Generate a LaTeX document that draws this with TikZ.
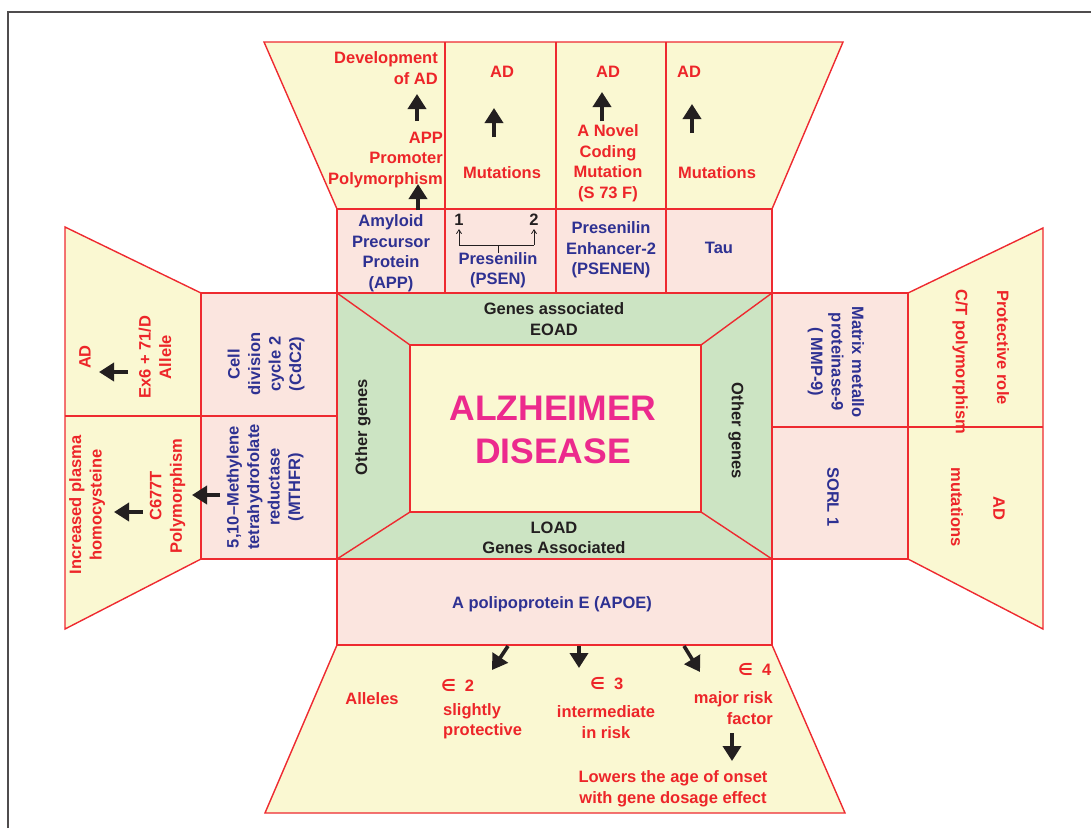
\documentclass[tikz,border=0pt]{standalone}
\usepackage{fontspec}
\setmainfont{Liberation Sans}
\newfontfamily\symfont{DejaVu Sans}
\usetikzlibrary{arrows.meta}
\definecolor{pinkfill}{HTML}{FBE5DF}
\definecolor{yelfill}{HTML}{FAF8D2}
\definecolor{grnfill}{HTML}{CCE4C3}
\definecolor{redline}{HTML}{EE2A30}
\definecolor{redtext}{HTML}{ED2529}
\definecolor{bluetext}{HTML}{2E3192}
\definecolor{magtext}{HTML}{EC2A8D}
\definecolor{darktext}{HTML}{231F20}
\tikzset{
  yel/.style={fill=yelfill,draw=redline,line width=1.4pt,line join=miter},
  pnk/.style={fill=pinkfill,draw=redline,line width=1.4pt},
  grn/.style={fill=grnfill,draw=redline,line width=1.4pt},
  rl/.style={draw=redline,line width=1.4pt},
  txt/.style={inner sep=0pt,font=\fontsize{16.5}{20.5}\selectfont\bfseries},
  rtxt/.style={txt,text=redtext},
  btxt/.style={txt,text=bluetext},
  dtxt/.style={txt,text=darktext},
  bigarrow/.style={draw=darktext,line width=3.6pt,-{Triangle[width=18pt,length=15pt]}},
  thinarrow/.style={draw=darktext,line width=0.8pt,-{Straight Barb[length=4pt,width=5pt]}},
}
\newcommand{\epsym}{{\symfont ∈}\hspace{9pt}}
\begin{document}
\begin{tikzpicture}[x=1pt,y=-1pt]
\useasboundingbox (0,0) rectangle (1091,828);
% frame
\draw[line width=1.6pt,draw=darktext!80] (8,828) -- (8,12) -- (1091,12);

% top yellow trapezoid
\path[yel] (264,42) -- (843,42) -- (772,209) -- (337,209) -- cycle;
% left yellow trapezoid
\path[yel] (65,227) -- (201,293) -- (201,559) -- (65,629) -- cycle;
% right yellow trapezoid
\path[yel] (1043,228) -- (908,293) -- (908,559) -- (1043,629) -- cycle;
% bottom yellow trapezoid
\path[yel] (337,645) -- (772,645) -- (845,813) -- (265,813) -- cycle;

% pink boxes
\path[pnk] (337,209) rectangle (772,293);
\path[pnk] (201,293) rectangle (337,559);
\path[pnk] (772,293) rectangle (908,559);
\path[pnk] (337,559) rectangle (772,645);

% dividers
\draw[rl] (445,42) -- (445,293);
\draw[rl] (556,42) -- (556,293);
\draw[rl] (666,42) -- (666,293);
\draw[rl] (65,416) -- (337,416);
\draw[rl] (772,427) -- (1043,427);

% centre
\path[grn] (337,293) rectangle (772,559);
\draw[rl] (337,293) -- (410,345);
\draw[rl] (772,293) -- (701,345);
\draw[rl] (337,559) -- (410,512);
\draw[rl] (772,559) -- (701,512);
\path[yel] (410,345) rectangle (701,512);

% centre texts
\node[dtxt,align=center] (eoad) at (554,319) {Genes associated\\EOAD};
\node[dtxt,align=center] (load) at (554,538) {LOAD\\Genes Associated};
\node[dtxt,rotate=90] (othl) at (363,427) {Other genes};
\node[dtxt,rotate=-90] (othr) at (736,431) {Other genes};
\node[txt,text=magtext,align=center,font=\fontsize{35.5}{43}\selectfont\bfseries] (alz) at (553,430) {ALZHEIMER\\DISEASE};

% top row: pink
\node[btxt,align=center] (app) at (391,253) {Amyloid\\Precursor\\Protein\\(APP)};
\node[dtxt] (one) at (459,220) {1};
\node[dtxt] (two) at (534,220) {2};
\node[btxt,align=center] (psen) at (498,270) {Presenilin\\(PSEN)};
\coordinate (brl) at (459,245);
\coordinate (brr) at (534,245);
\coordinate (brm) at (498,245);
\coordinate (brs) at (498,253);
\draw[darktext,line width=0.8pt] (brl) -- (brr);
\draw[darktext,line width=0.8pt] (brm) -- (brs);
\draw[thinarrow] (brl) -- (one.south |- 0,229);
\draw[thinarrow] (brr) -- (two.south |- 0,229);
\node[btxt,align=center] (psenen) at (611,250) {Presenilin\\Enhancer-2\\(PSENEN)};
\node[btxt] (tau) at (719,248) {Tau};

% top row: yellow
\node[rtxt,align=right,anchor=east] (devad) at (438,68) {Development\\of AD};
\node[rtxt,align=right,anchor=east] (apppp) at (443,160) {APP\\Promoter\\Polymorphism};
\coordinate (a1s) at (417,121); \coordinate (a1e) at (417,94);
\draw[bigarrow] (a1s) -- (a1e);
\coordinate (a2s) at (418,210); \coordinate (a2e) at (418,184);
\draw[bigarrow] (a2s) -- (a2e);

\node[rtxt] (ad2) at (502,72) {AD};
\node[rtxt] (mut2) at (502,173) {Mutations};
\coordinate (a3s) at (494,137); \coordinate (a3e) at (494,108);
\draw[bigarrow] (a3s) -- (a3e);

\node[rtxt] (ad3) at (608,72) {AD};
\node[rtxt,align=center] (novel) at (608,163) {A Novel\\Coding\\Mutation\\(S 73 F)};
\coordinate (a4s) at (602,121); \coordinate (a4e) at (602,92);
\draw[bigarrow] (a4s) -- (a4e);

\node[rtxt] (ad4) at (689,72) {AD};
\node[rtxt] (mut4) at (717,173) {Mutations};
\coordinate (a5s) at (692,133); \coordinate (a5e) at (692,104);
\draw[bigarrow] (a5s) -- (a5e);

% left side
\node[btxt,rotate=90,align=center] (cdc) at (266,364) {Cell\\division\\cycle 2\\(CdC2)};
\node[btxt,rotate=90,align=center] (mthfr) at (265,487) {5,10--Methylene\\tetrahydrofolate\\reductase\\(MTHFR)};
\node[rtxt,rotate=90] (adl) at (85,357) {AD};
\node[rtxt,rotate=90,align=center] (ex6) at (155,357) {Ex6 + 71/D\\Allele};
\node[rtxt,rotate=90,align=center] (incr) at (87,505) {Increased plasma\\homocysteine};
\node[rtxt,rotate=90,align=center] (c677) at (167.5,496) {C677T\\Polymorphism};
\coordinate (a6s) at (128,372); \coordinate (a6e) at (99,372);
\draw[bigarrow] (a6s) -- (a6e);
\coordinate (a7s) at (143,512); \coordinate (a7e) at (114,512);
\draw[bigarrow] (a7s) -- (a7e);
\coordinate (a8s) at (220,495); \coordinate (a8e) at (192,495);
\draw[bigarrow] (a8s) -- (a8e);

% right side
\node[btxt,rotate=-90,align=center] (mmp) at (836,362) {Matrix metallo\\proteinase-9\\( MMP-9)};
\node[btxt,rotate=-90] (sorl) at (833,497) {SORL 1};
\node[rtxt,rotate=-90,anchor=west] (prot) at (1003,290) {Protective role};
\node[rtxt,rotate=-90,anchor=west] (ct) at (960,289) {C/T polymorphism};
\node[rtxt,rotate=-90] (adr) at (999,508) {AD};
\node[rtxt,rotate=-90] (mutr) at (957,507) {mutations};

% bottom
\node[btxt] (apoe) at (552,604) {A polipoprotein E (APOE)};
\node[rtxt] (alleles) at (372,699) {Alleles};
\node[rtxt,anchor=west] (e2) at (441,685) {\epsym 2};
\node[rtxt,align=left,anchor=west] (slight) at (443,721) {slightly\\protective};
\node[rtxt,anchor=west] (e3) at (590,684) {\epsym 3};
\node[rtxt,align=center] (inter) at (606,722) {intermediate\\in risk};
\node[rtxt,anchor=west] (e4) at (738,669) {\epsym 4};
\node[rtxt,align=right,anchor=east] (major) at (773,708) {major risk\\factor};
\node[rtxt,align=center] (lowers) at (673,789) {Lowers the age of onset\\with gene dosage effect};
\coordinate (b1s) at (508,646); \coordinate (b1e) at (492,670);
\draw[bigarrow] (b1s) -- (b1e);
\coordinate (b2s) at (579,646); \coordinate (b2e) at (579,668);
\draw[bigarrow] (b2s) -- (b2e);
\coordinate (b3s) at (684,646); \coordinate (b3e) at (700,672);
\draw[bigarrow] (b3s) -- (b3e);
\coordinate (b4s) at (732,733); \coordinate (b4e) at (732,761);
\draw[bigarrow] (b4s) -- (b4e);
\end{tikzpicture}
\end{document}
